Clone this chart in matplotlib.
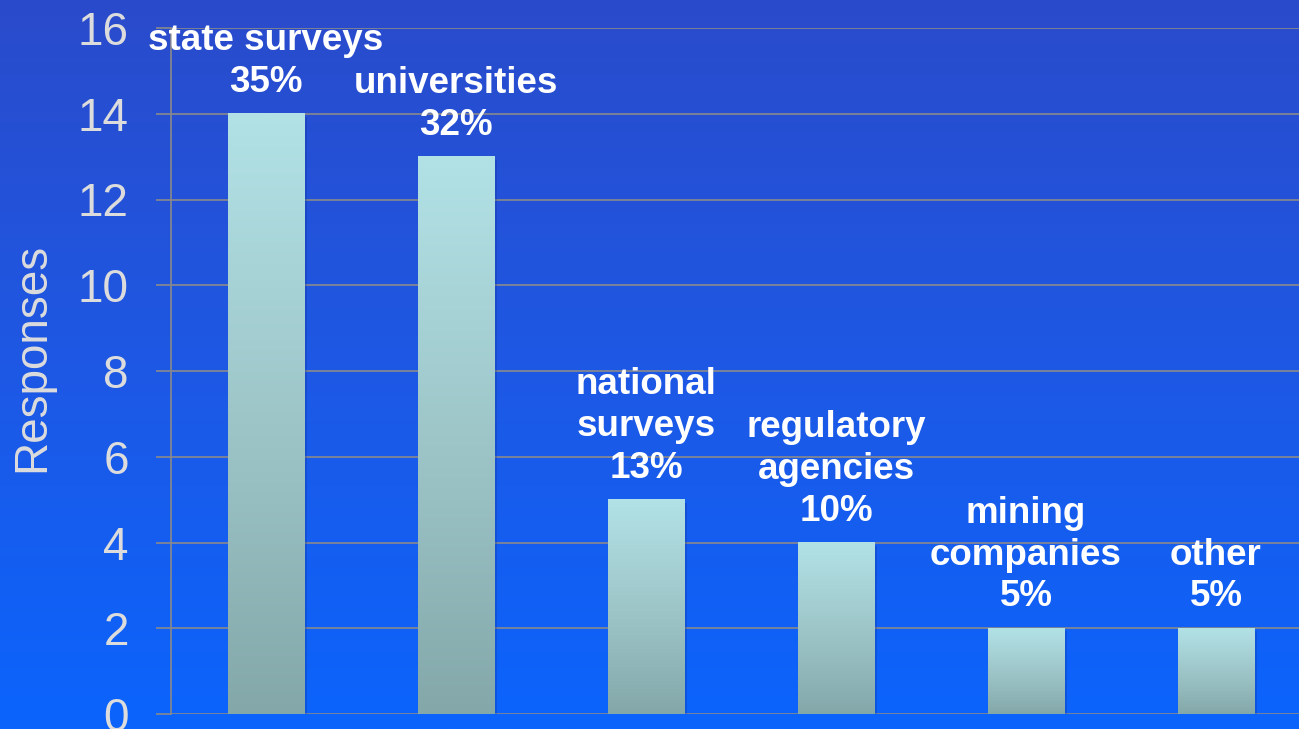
import numpy as np
import matplotlib
matplotlib.use("Agg")
import matplotlib.pyplot as plt
from matplotlib.colors import LinearSegmentedColormap

categories = ["state surveys", "universities", "national\nsurveys", "regulatory\nagencies", "mining\ncompanies", "other"]
responses = [14, 13, 5, 4, 2, 2]
percent_labels = ["35%", "32%", "13%", "10%", "5%", "5%"]
y_ticks = [0, 2, 4, 6, 8, 10, 12, 14, 16]

plt.rcParams['font.family'] = ['Liberation Sans', 'DejaVu Sans']

fig = plt.figure(figsize=(12.99, 7.29), dpi=100)

# background gradient
bg = fig.add_axes([0, 0, 1, 1], zorder=-10)
bg_cmap = LinearSegmentedColormap.from_list("bg", ["#2a4bcb", "#1e58e4", "#0b64fd"])
bg.imshow(np.linspace(0, 1, 256).reshape(-1, 1), aspect='auto', cmap=bg_cmap,
          extent=[0, 1, 0, 1], origin='upper')
bg.set_axis_off()

ax = fig.add_axes([171/1299, 15/729, 1140/1299, 686/729])
ax.set_facecolor('none')
x = np.arange(len(categories))
bars = ax.bar(x, responses, width=0.405, color='none', zorder=3)

bar_cmap = LinearSegmentedColormap.from_list("bar", ["#84a8aa", "#9ec6c9", "#b2e2e6"])
grad = np.linspace(0, 1, 256).reshape(-1, 1)
for rect in bars:
    x0, w, h = rect.get_x(), rect.get_width(), rect.get_height()
    # soft shadow
    ax.bar(x0 + w / 2 + 0.012, h, width=w, bottom=-0.07, color='#0a2a90', alpha=0.25,
           zorder=2, linewidth=0)
    ax.imshow(grad, aspect='auto', cmap=bar_cmap, origin='lower',
              extent=[x0, x0 + w, 0, h], zorder=3)

for xi, (cat, val, pct) in enumerate(zip(categories, responses, percent_labels)):
    ax.annotate(cat + "\n" + pct, (xi, val), xytext=(0, 10), textcoords='offset points',
                ha='center', va='bottom', multialignment='center', color='white',
                fontsize=26.5, fontweight='bold', linespacing=1.25, zorder=5)

ax.set_xlim(-0.5, 5.5)
ax.set_ylim(0, 16)
ax.set_yticks(y_ticks)
ax.set_xticks([])
ax.grid(axis='y', color='#8a8a8a', linewidth=1.2, zorder=1)
ax.set_axisbelow(True)
for s in ['top', 'right', 'bottom']:
    ax.spines[s].set_visible(False)
ax.spines['left'].set_color('#8a8a8a')
ax.spines['left'].set_linewidth(1.2)
ax.tick_params(axis='y', colors='#8a8a8a', length=10.5, width=1.2, pad=20,
               labelsize=33, labelcolor='#dcdcdc')
ax.set_ylabel("Responses", fontsize=33, color='#dcdcdc')
ax.yaxis.set_label_coords(-0.102, 0.52)

fig.savefig("out.png", dpi=100)
